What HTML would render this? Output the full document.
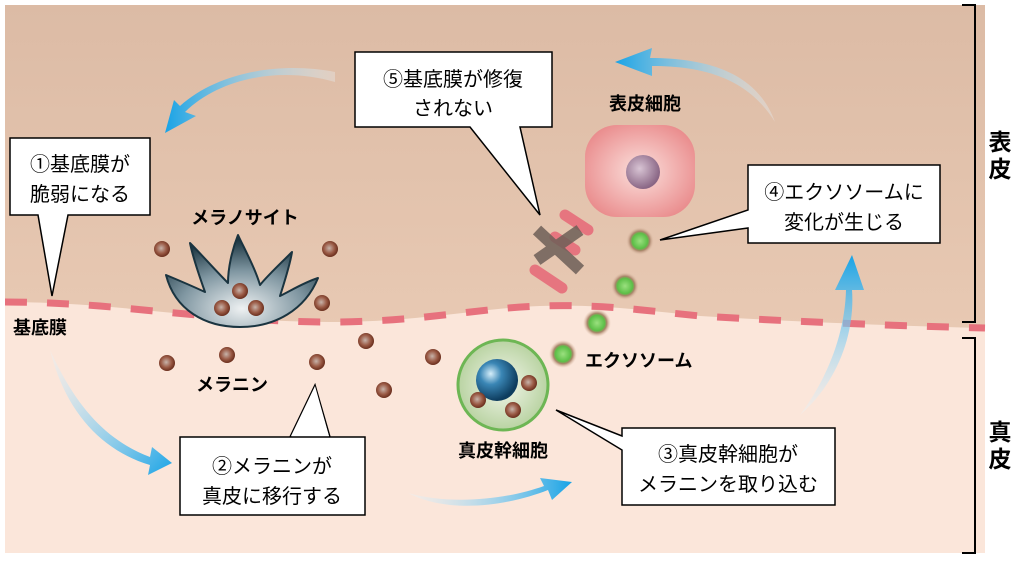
<!DOCTYPE html>
<html><head><meta charset="utf-8"><style>
body{margin:0;background:#fff;}
svg text{font-family:"Liberation Sans","Noto Sans CJK JP",sans-serif;}
</style></head><body>
<svg width="1024" height="561" viewBox="0 0 1024 561" xmlns="http://www.w3.org/2000/svg">
<defs>
<linearGradient id="epi" x1="0" y1="0" x2="0" y2="1"><stop offset="0" stop-color="#dcbba5"/><stop offset="1" stop-color="#e8c9b3"/></linearGradient>
<radialGradient id="cellp" cx="0.5" cy="0.5" r="0.6"><stop offset="0" stop-color="#fbe0dc"/><stop offset="1" stop-color="#e9898a"/></radialGradient>
<radialGradient id="nuc" cx="0.4" cy="0.4" r="0.6"><stop offset="0" stop-color="#d8c4d4"/><stop offset="1" stop-color="#8a6685"/></radialGradient>
<radialGradient id="mel" cx="0.45" cy="0.45" r="0.55"><stop offset="0" stop-color="#c7b3aa"/><stop offset="0.6" stop-color="#9a5a45"/><stop offset="1" stop-color="#6b2f1e"/></radialGradient>
<radialGradient id="exo" cx="0.5" cy="0.5" r="0.5"><stop offset="0" stop-color="#9be07f"/><stop offset="0.55" stop-color="#5cbf47"/><stop offset="0.7" stop-color="#a9846a"/><stop offset="1" stop-color="#e4c4ae" stop-opacity="0"/></radialGradient>
<radialGradient id="stem" cx="0.5" cy="0.5" r="0.5"><stop offset="0" stop-color="#f3f6ec"/><stop offset="1" stop-color="#b9d3a2"/></radialGradient>
<radialGradient id="blue" cx="0.35" cy="0.35" r="0.65"><stop offset="0" stop-color="#d5eefa"/><stop offset="0.4" stop-color="#3a86b5"/><stop offset="1" stop-color="#0d3c5e"/></radialGradient>
<radialGradient id="mc" cx="0.5" cy="0.8" r="0.75"><stop offset="0" stop-color="#eef1f2"/><stop offset="0.55" stop-color="#7f96a1"/><stop offset="1" stop-color="#1a3440"/></radialGradient>
<linearGradient id="arA" x1="0" y1="0" x2="1" y2="0"><stop offset="0" stop-color="#e9f6fd" stop-opacity="0.3"/><stop offset="1" stop-color="#18a3e6"/></linearGradient>
<linearGradient id="arB" x1="1" y1="0" x2="0" y2="0"><stop offset="0" stop-color="#e9f6fd" stop-opacity="0.3"/><stop offset="1" stop-color="#18a3e6"/></linearGradient>
<linearGradient id="arV" x1="0" y1="1" x2="0" y2="0"><stop offset="0" stop-color="#e9f6fd" stop-opacity="0.3"/><stop offset="1" stop-color="#18a3e6"/></linearGradient>
<linearGradient id="arD" x1="0" y1="0" x2="1" y2="1"><stop offset="0" stop-color="#e9f6fd" stop-opacity="0.3"/><stop offset="1" stop-color="#18a3e6"/></linearGradient>
</defs>
<rect x="5" y="5" width="980" height="548" fill="#fbe6da"/>
<path d="M5 5 H985 V328 C900 326 800 322 700 316 C640 310 600 304 540 306 C480 308 420 322 330 322 C250 322 170 312 100 306 C60 303 30 302 5 302 Z" fill="url(#epi)"/>
<path d="M5 302 C30 302 60 303 100 306 C170 312 250 322 330 322 C420 322 480 308 540 306 C600 304 640 310 700 316 C800 322 900 326 985 328" fill="none" stroke="#e7717d" stroke-width="7" stroke-dasharray="22,20"/>
<!-- brackets -->
<path d="M962 5 H975 V322 H962" fill="none" stroke="#000" stroke-width="2"/>
<path d="M962 338 H975 V553 H962" fill="none" stroke="#000" stroke-width="2"/>
<text x="1000" y="150" font-size="23" font-weight="bold" text-anchor="middle">表</text>
<text x="1000" y="177" font-size="23" font-weight="bold" text-anchor="middle">皮</text>
<text x="1000" y="440" font-size="23" font-weight="bold" text-anchor="middle">真</text>
<text x="1000" y="467" font-size="23" font-weight="bold" text-anchor="middle">皮</text>
<!-- arrows -->
<path d="M335 82 C280 66 220 78 185 112 L196 116 L165 133 L174 100 L180 106 C220 70 285 62 335 72 Z" fill="url(#arB)"/>
<path d="M775 122 C760 80 720 58 650 58 L652 48 L615 62 L652 76 L652 66 C715 66 752 85 775 122 Z" fill="url(#arB)"/>
<path d="M50 350 C65 410 100 450 150 465 L148 475 L172 463 L152 447 L150 457 C105 440 75 405 50 350 Z" fill="url(#arD)"/>
<path d="M408 493 C450 515 510 505 548 490 L552 500 L572 482 L540 478 L544 486 C505 500 450 505 408 493 Z" fill="url(#arA)"/>
<path d="M800 415 C840 380 855 330 852 290 L864 290 L852 255 L835 290 L846 290 C845 330 830 375 800 415 Z" fill="url(#arV)"/>
<!-- epidermal cell -->
<rect x="585" y="125" width="110" height="92" rx="32" fill="url(#cellp)"/>
<circle cx="643" cy="172" r="17" fill="url(#nuc)"/>
<text x="645" y="110" font-size="18" font-weight="bold" text-anchor="middle">表皮細胞</text>
<!-- broken membrane -->
<g stroke="#e7717d" stroke-width="11" stroke-linecap="round" opacity="0.95">
<line x1="565" y1="215" x2="588" y2="230"/>
<line x1="555" y1="237" x2="575" y2="250"/>
<line x1="535" y1="270" x2="562" y2="288"/>
</g>
<g stroke="#6e5f58" stroke-width="12" opacity="0.85"><line x1="537" y1="230" x2="580" y2="270"/><line x1="537" y1="260" x2="580" y2="230"/></g>
<!-- exosomes -->
<circle cx="640" cy="241" r="14" fill="url(#exo)"/>
<circle cx="625" cy="286" r="14" fill="url(#exo)"/>
<circle cx="597" cy="323" r="14" fill="url(#exo)"/>
<circle cx="563" cy="354" r="14" fill="url(#exo)"/>
<text x="585" y="367" font-size="18" font-weight="bold">エクソソーム</text>
<!-- melanocyte -->
<path d="M166 275 C175 310 205 327 240 327 C275 327 305 310 318 278 C305 282 292 290 280 296 C285 280 290 265 292 252 C282 262 268 275 260 285 C255 268 245 250 238 235 C232 250 228 268 228 283 C215 270 202 255 190 243 C193 258 200 278 205 292 C192 286 178 280 166 275 Z" fill="url(#mc)" stroke="#1a3440" stroke-width="2" stroke-linejoin="round"/>
<text x="245" y="224" font-size="18" font-weight="bold" text-anchor="middle">メラノサイト</text>
<g fill="url(#mel)">
<circle cx="162" cy="249" r="8"/><circle cx="330" cy="249" r="8"/><circle cx="240" cy="291" r="8"/><circle cx="222" cy="308" r="8"/><circle cx="256" cy="308" r="8"/><circle cx="322" cy="303" r="8"/>
<circle cx="167" cy="363" r="8"/><circle cx="227" cy="355" r="8"/><circle cx="317" cy="362" r="8"/><circle cx="366" cy="341" r="8"/><circle cx="433" cy="357" r="8"/><circle cx="384" cy="390" r="8"/>
</g>
<text x="40" y="334" font-size="18" font-weight="bold" text-anchor="middle">基底膜</text>
<text x="232" y="391" font-size="18" font-weight="bold" text-anchor="middle">メラニン</text>
<!-- stem cell -->
<circle cx="503" cy="385" r="45" fill="url(#stem)" stroke="#6db654" stroke-width="3"/>
<circle cx="497" cy="380" r="21" fill="url(#blue)"/>
<g fill="url(#mel)"><circle cx="529" cy="383" r="8"/><circle cx="513" cy="410" r="8"/><circle cx="478" cy="400" r="8"/></g>
<text x="503" y="457" font-size="18" font-weight="bold" text-anchor="middle">真皮幹細胞</text>
<!-- callouts -->
<g fill="#fff" stroke="#000" stroke-width="1.5">
<path d="M10 138 H150 V215 H68 L52 296 L38 215 H10 Z"/>
<path d="M355 52 H552 V127 H520 L540 215 L470 127 H355 Z"/>
<path d="M748 165 H940 V243 H748 V228 L660 240 L748 210 Z"/>
<path d="M180 437 H365 V515 H180 Z M290 437 L315 385 L330 437"/>
<path d="M622 428 H835 V505 H622 V450 L556 410 L622 436 Z"/>
</g>
<path d="M291 436 L315 386 L329 436" fill="#fff" stroke="none"/>
<g font-size="20" text-anchor="middle">
<text x="80" y="171">①基底膜が</text><text x="80" y="201">脆弱になる</text>
<text x="272" y="473">②メラニンが</text><text x="272" y="503">真皮に移行する</text>
<text x="728" y="461">③真皮幹細胞が</text><text x="728" y="491">メラニンを取り込む</text>
<text x="844" y="199">④エクソソームに</text><text x="844" y="229">変化が生じる</text>
<text x="453" y="86">⑤基底膜が修復</text><text x="453" y="115">されない</text>
</g>
</svg>
</body></html>
